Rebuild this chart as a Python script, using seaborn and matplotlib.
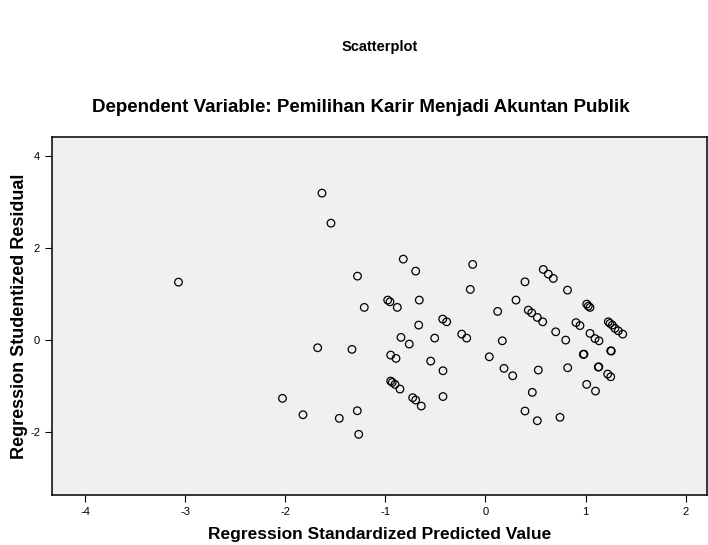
import matplotlib
matplotlib.use("Agg")
import matplotlib.pyplot as plt
import seaborn as sns
import pandas as pd

# standardized predicted values (x) and studentized residuals (y)
pred = [-3.07, -1.635, -1.545, -2.03, -1.825, -1.678, -1.462, -1.335, -1.28, -1.282,
        -1.268, -1.212, -0.822, -0.698, -0.128, -0.152, -0.978, -0.955, -0.882, -0.662,
        -0.668, -0.428, -0.388, -0.845, -0.762, -0.508, -0.238, -0.188, -0.948, -0.895,
        -0.548, -0.425, -0.948, -0.932, -0.905, -0.855, -0.728, -0.698, -0.642, -0.425,
        0.038, 0.122, 0.168, 0.185, 0.272, 0.305, 0.395, 0.428, 0.462, 0.518,
        0.572, 0.578, 0.628, 0.678, 0.702, 0.802, 0.82, 0.528, 0.468, 0.395,
        0.518, 0.745, 0.822, 0.905, 0.945, 1.012, 1.028, 1.045, 1.045, 1.095,
        1.135, 0.978, 0.985, 1.252, 1.258, 1.128, 1.133, 1.222, 1.252, 1.012,
        1.10, 1.228, 1.245, 1.268, 1.295, 1.328, 1.372]
resid = [1.26, 3.196, 2.543, -1.267, -1.624, -0.167, -1.702, -0.202, 1.391, -1.537,
         -2.05, 0.711, 1.761, 1.50, 1.646, 1.102, 0.870, 0.833, 0.711, 0.870,
         0.326, 0.457, 0.398, 0.059, -0.087, 0.043, 0.130, 0.043, -0.326, -0.398,
         -0.457, -0.667, -0.891, -0.920, -0.963, -1.065, -1.254, -1.304, -1.435, -1.228,
         -0.363, 0.624, -0.015, -0.615, -0.776, 0.870, 1.267, 0.652, 0.593, 0.493,
         0.398, 1.537, 1.435, 1.341, 0.180, 0.0, 1.087, -0.652, -1.137, -1.543,
         -1.754, -1.680, -0.602, 0.380, 0.315, 0.783, 0.739, 0.711, 0.146, 0.033,
         -0.015, -0.311, -0.306, -0.233, -0.238, -0.587, -0.582, -0.739, -0.798, -0.963,
         -1.109, 0.398, 0.363, 0.326, 0.254, 0.202, 0.130]

xticks = [-4, -3, -2, -1, 0, 1, 2]
yticks = [-2, 0, 2, 4]

df = pd.DataFrame({"pred": pred, "resid": resid})

sns.set_style("white")
plt.rcParams['font.family'] = ['Liberation Sans', 'DejaVu Sans']
plt.rcParams['axes.unicode_minus'] = False
plt.rcParams['text.color'] = 'black'
plt.rcParams['axes.labelcolor'] = 'black'

fig = plt.figure(figsize=(7.08, 5.45), dpi=100)
ax = fig.add_axes([0.0734, 0.0917, 0.9252, 0.6563])
ax.set_facecolor("#f0f0f0")

sns.scatterplot(data=df, x="pred", y="resid", ax=ax, marker="o", s=30,
                facecolor="none", edgecolor="black", linewidth=0.9)

ax.set_xlim(-4.335, 2.215)
ax.set_ylim(-3.37, 4.41)
ax.set_xticks(xticks)
ax.set_yticks(yticks)
ax.tick_params(axis="both", direction="out", length=5, width=0.8, labelsize=8,
               colors="black", bottom=True, left=True)
for s in ax.spines.values():
    s.set_color("black")
    s.set_linewidth(1.1)

ax.set_xlabel("Regression Standardized Predicted Value", fontsize=12.5,
              fontweight="bold")
ax.xaxis.set_label_coords(0.5, -0.09)
ax.set_ylabel("Regression Studentized Residual", fontsize=13,
              fontweight="bold")
ax.yaxis.set_label_coords(-0.036, 0.5)

fig.text(361 / 708, 1 - 108 / 545,
         "Dependent Variable: Pemilihan Karir Menjadi Akuntan Publik",
         ha="center", va="center", fontsize=13.5, fontweight="bold")
fig.text(380 / 708, 1 - 47 / 545, "Scatterplot", ha="center", va="center",
         fontsize=10.5, fontweight="bold")

fig.savefig("out.png", dpi=100, facecolor="white")
